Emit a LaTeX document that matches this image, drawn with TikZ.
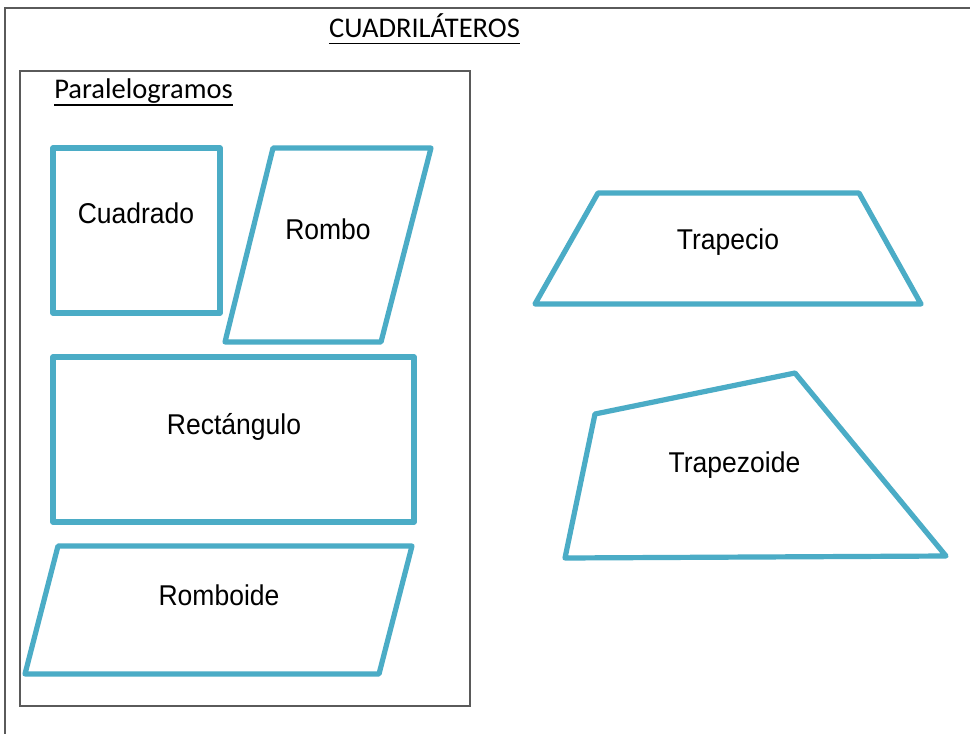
\documentclass[tikz,border=0pt]{standalone}
\usepackage{fontspec}
\setmainfont{Liberation Sans}
\newfontfamily\titlefont{Carlito}
\usetikzlibrary{positioning}
\definecolor{shapeblue}{RGB}{75,172,198}
\definecolor{framegray}{RGB}{90,90,90}

\begin{document}
\begin{tikzpicture}[
    x=1pt, y=-1pt,
    frame/.style={draw=framegray, line width=1.3pt},
    quad/.style={draw=shapeblue, line width=5.2pt, line join=round},
    lab/.style={font=\fontsize{26.5}{30}\selectfont, inner sep=0pt, anchor=base, yscale=1.08},
    heading/.style={font=\titlefont\fontsize{28.5}{32}\selectfont, inner sep=0pt, anchor=base},
    rule/.style={draw=black, line width=1.3pt}
]
\clip (0,0) rectangle (970,734);
\fill[white] (0,0) rectangle (970,734);

% frames
\draw[frame] (5,8) rectangle (990,760);
\draw[frame] (20,71) rectangle (470,706);

% headings
\node[heading] (cuadrilateros) at (424.5,37) {CUADRILÁTEROS};
\draw[rule] ([yshift=-6.5pt]cuadrilateros.base west) -- ([yshift=-6.5pt]cuadrilateros.base east);
\node[heading] (paralelogramos) at (143.5,98.5) {Paralelogramos};
\draw[rule] ([yshift=-6.5pt]paralelogramos.base west) -- ([yshift=-6.5pt]paralelogramos.base east);

% paralelogramos
\draw[quad] (53,148) rectangle (220,313);
\node[lab] (cuadrado) at (136,223) {Cuadrado};

\draw[quad] (273,148) -- (431,148) -- (381,342) -- (225,342) -- cycle;
\node[lab] (rombo) at (328,239) {Rombo};

\draw[quad] (53,357) rectangle (414,522);
\node[lab] (rectangulo) at (234,434) {Rectángulo};

\draw[quad] (58,546) -- (412,546) -- (379,674) -- (25,674) -- cycle;
\node[lab] (romboide) at (219,605) {Romboide};

% otros cuadrilateros
\draw[quad] (598,193) -- (859,193) -- (921,304) -- (535,304) -- cycle;
\node[lab] (trapecio) at (728,249) {Trapecio};

\draw[quad] (595,414) -- (795,373) -- (946,556) -- (565,558) -- cycle;
\node[lab] (trapezoide) at (734.5,472) {Trapezoide};
\end{tikzpicture}
\end{document}
